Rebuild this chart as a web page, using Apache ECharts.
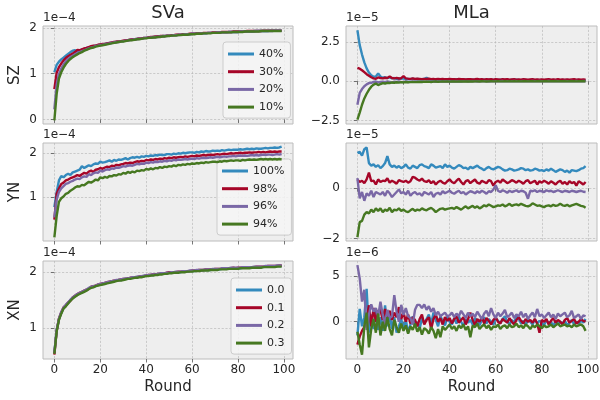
<!DOCTYPE html>
<html>
<head>
<meta charset="utf-8">
<script src="https://cdn.jsdelivr.net/npm/echarts@6/dist/echarts.min.js"></script>
<style>
  html, body { margin: 0; padding: 0; background: #ffffff; }
  #chart { width: 600px; height: 400px; }
</style>
</head>
<body>
<div id="chart"></div>
<script>
// ---- Data (row panels: SZ, YN, XN; columns: SVa in 1e-4, MLa in 1e-5 / 1e-6) ----
const rounds = Array.from({ length: 100 }, (_, i) => i);

const szNames = ['40%', '30%', '20%', '10%'];
const ynNames = ['100%', '98%', '96%', '94%'];
const xnNames = ['0.0', '0.1', '0.2', '0.3'];

// SZ / SVa (x 1e-4)
const szSVa40 = [
1.03,1.19,1.26,1.31,1.35,1.39,1.43,1.47,1.50,1.51,
1.48,1.50,1.53,1.54,1.56,1.57,1.58,1.60,1.61,1.62,
1.63,1.64,1.65,1.66,1.67,1.67,1.68,1.69,1.70,1.71,
1.71,1.72,1.73,1.74,1.74,1.75,1.76,1.76,1.77,1.78,
1.78,1.79,1.79,1.80,1.80,1.81,1.81,1.82,1.82,1.83,
1.83,1.83,1.84,1.84,1.85,1.85,1.85,1.86,1.86,1.86,
1.87,1.87,1.87,1.88,1.88,1.88,1.88,1.89,1.89,1.89,
1.89,1.90,1.90,1.90,1.90,1.90,1.91,1.91,1.91,1.91,
1.91,1.92,1.92,1.92,1.92,1.92,1.92,1.93,1.93,1.93,
1.93,1.93,1.93,1.93,1.94,1.94,1.94,1.94,1.94,1.94];
const szSVa30 = [
0.66,1.02,1.14,1.22,1.29,1.34,1.38,1.41,1.44,1.47,
1.52,1.51,1.53,1.55,1.56,1.58,1.60,1.61,1.61,1.63,
1.64,1.65,1.65,1.66,1.67,1.68,1.69,1.70,1.70,1.71,
1.72,1.73,1.73,1.74,1.75,1.75,1.76,1.77,1.77,1.78,
1.78,1.79,1.80,1.80,1.81,1.81,1.82,1.82,1.82,1.83,
1.83,1.84,1.84,1.85,1.85,1.85,1.86,1.86,1.86,1.87,
1.87,1.87,1.88,1.88,1.88,1.89,1.89,1.89,1.89,1.90,
1.90,1.90,1.90,1.91,1.91,1.91,1.91,1.91,1.92,1.92,
1.92,1.92,1.92,1.92,1.93,1.93,1.93,1.93,1.93,1.93,
1.93,1.94,1.94,1.94,1.94,1.94,1.94,1.94,1.94,1.94];
const szSVa20 = [
0.22,0.76,0.99,1.11,1.20,1.27,1.32,1.36,1.39,1.42,
1.45,1.47,1.49,1.51,1.53,1.55,1.57,1.58,1.60,1.61,
1.62,1.63,1.64,1.65,1.66,1.67,1.68,1.69,1.69,1.70,
1.71,1.72,1.72,1.73,1.74,1.75,1.75,1.76,1.76,1.77,
1.78,1.78,1.79,1.79,1.80,1.80,1.81,1.81,1.82,1.82,
1.83,1.83,1.84,1.84,1.84,1.85,1.85,1.86,1.86,1.86,
1.87,1.87,1.87,1.87,1.88,1.88,1.88,1.89,1.89,1.89,
1.89,1.90,1.90,1.90,1.90,1.90,1.91,1.91,1.91,1.91,
1.91,1.92,1.92,1.92,1.92,1.92,1.92,1.92,1.93,1.93,
1.93,1.93,1.93,1.93,1.93,1.93,1.94,1.94,1.94,1.94];
const szSVa10 = [
-0.02,0.56,0.89,1.03,1.13,1.21,1.27,1.32,1.36,1.39,
1.42,1.45,1.47,1.50,1.52,1.54,1.56,1.57,1.59,1.60,
1.61,1.62,1.63,1.64,1.65,1.66,1.67,1.68,1.69,1.70,
1.70,1.71,1.72,1.73,1.73,1.74,1.75,1.75,1.76,1.77,
1.77,1.78,1.78,1.79,1.79,1.80,1.80,1.81,1.81,1.82,
1.82,1.83,1.83,1.83,1.84,1.84,1.85,1.85,1.85,1.86,
1.86,1.86,1.87,1.87,1.87,1.88,1.88,1.88,1.88,1.89,
1.89,1.89,1.89,1.90,1.90,1.90,1.90,1.90,1.91,1.91,
1.91,1.91,1.91,1.92,1.92,1.92,1.92,1.92,1.92,1.92,
1.93,1.93,1.93,1.93,1.93,1.93,1.93,1.93,1.93,1.93];

// SZ / MLa (x 1e-5)
const szMLa40 = [
3.25,2.30,1.70,1.20,0.82,0.55,0.38,0.28,0.30,0.50,
0.30,0.22,0.25,0.20,0.24,0.18,0.20,0.15,0.17,0.16,
0.18,0.14,0.15,0.13,0.16,0.12,0.14,0.13,0.12,0.14,
0.22,0.13,0.11,0.12,0.10,0.12,0.11,0.10,0.12,0.10,
0.11,0.09,0.10,0.12,0.09,0.10,0.11,0.09,0.10,0.08,
0.10,0.09,0.11,0.08,0.09,0.10,0.08,0.09,0.10,0.08,
0.09,0.08,0.10,0.09,0.08,0.09,0.07,0.09,0.08,0.09,
0.08,0.07,0.09,0.08,0.07,0.08,0.09,0.07,0.08,0.07,
0.08,0.07,0.08,0.09,0.07,0.08,0.07,0.08,0.07,0.08,
0.07,0.08,0.07,0.06,0.08,0.07,0.08,0.07,0.06,0.07];
const szMLa30 = [
0.85,0.80,0.70,0.58,0.45,0.35,0.25,0.18,0.15,0.24,
0.20,0.18,0.22,0.20,0.30,0.20,0.18,0.21,0.17,0.19,
0.32,0.18,0.16,0.15,0.18,0.14,0.16,0.15,0.13,0.15,
0.14,0.16,0.13,0.15,0.12,0.14,0.13,0.15,0.12,0.13,
0.14,0.12,0.13,0.11,0.14,0.12,0.13,0.11,0.12,0.13,
0.11,0.12,0.14,0.11,0.12,0.10,0.13,0.11,0.12,0.10,
0.12,0.11,0.10,0.12,0.11,0.13,0.10,0.11,0.12,0.10,
0.11,0.10,0.12,0.11,0.10,0.11,0.12,0.10,0.11,0.10,
0.11,0.10,0.11,0.12,0.10,0.11,0.10,0.12,0.10,0.11,
0.10,0.11,0.10,0.11,0.12,0.10,0.11,0.10,0.11,0.10];
const szMLa20 = [
-1.50,-0.75,-0.50,-0.32,-0.20,-0.12,-0.10,-0.05,-0.02,-0.08,
-0.05,-0.03,-0.06,-0.02,-0.04,-0.10,-0.03,-0.05,-0.02,-0.06,
-0.04,-0.02,-0.05,-0.03,-0.02,-0.04,-0.01,-0.03,-0.02,-0.04,
-0.02,-0.01,-0.03,-0.02,-0.04,-0.01,-0.02,-0.03,-0.01,-0.02,
-0.01,-0.02,-0.01,-0.03,-0.01,-0.02,0.00,-0.01,-0.02,-0.01,
0.00,-0.01,-0.02,0.00,-0.01,0.00,-0.01,-0.02,0.00,-0.01,
0.00,-0.01,0.00,0.01,-0.01,0.00,-0.01,0.00,0.01,0.00,
-0.01,0.00,0.01,0.00,-0.01,0.00,0.01,0.00,0.00,0.01,
0.00,-0.01,0.00,0.01,0.00,0.00,0.01,0.00,-0.01,0.00,
0.01,0.00,0.00,0.01,0.00,0.01,0.00,0.00,0.01,0.00];
const szMLa10 = [
-2.45,-2.00,-1.50,-1.10,-0.80,-0.55,-0.35,-0.22,-0.15,-0.25,
-0.18,-0.12,-0.15,-0.10,-0.12,-0.08,-0.10,-0.07,-0.09,-0.06,
-0.08,-0.05,-0.07,-0.06,-0.04,-0.06,-0.05,-0.04,-0.05,-0.03,
-0.04,-0.03,-0.05,-0.03,-0.02,-0.04,-0.03,-0.02,-0.03,-0.02,
-0.03,-0.02,-0.01,-0.03,-0.02,-0.01,-0.02,-0.01,-0.02,-0.01,
-0.02,-0.01,-0.01,-0.02,0.00,-0.01,-0.02,-0.01,0.00,-0.01,
-0.01,0.00,-0.01,-0.01,0.00,-0.01,0.00,-0.01,0.00,-0.01,
0.00,-0.01,0.00,0.00,-0.01,0.00,0.00,-0.01,0.00,0.00,
-0.01,0.00,0.00,-0.01,0.00,0.00,0.00,-0.01,0.00,0.00,
0.00,-0.01,0.00,0.00,0.00,-0.01,0.00,0.00,0.00,-0.01];

// YN / SVa (x 1e-4)
const ynSVa100 = [
0.78,1.12,1.38,1.48,1.45,1.50,1.53,1.50,1.56,1.58,
1.60,1.62,1.70,1.66,1.69,1.72,1.70,1.74,1.76,1.75,
1.80,1.78,1.79,1.81,1.83,1.80,1.84,1.82,1.85,1.84,
1.86,1.88,1.85,1.88,1.90,1.89,1.91,1.89,1.92,1.91,
1.93,1.92,1.94,1.93,1.95,1.94,1.96,1.95,1.95,1.97,
1.97,1.96,1.98,1.97,1.99,1.98,2.00,1.99,2.00,2.01,
2.01,2.00,2.02,2.01,2.03,2.02,2.04,2.03,2.03,2.05,
2.04,2.05,2.04,2.06,2.05,2.06,2.07,2.06,2.07,2.07,
2.07,2.08,2.07,2.08,2.09,2.08,2.09,2.08,2.10,2.09,
2.09,2.10,2.11,2.10,2.11,2.11,2.12,2.11,2.12,2.14];
const ynSVa98 = [
0.50,1.08,1.20,1.30,1.33,1.38,1.40,1.43,1.45,1.47,
1.50,1.48,1.52,1.55,1.53,1.58,1.60,1.57,1.62,1.63,
1.66,1.64,1.67,1.69,1.68,1.71,1.70,1.73,1.72,1.74,
1.75,1.77,1.76,1.78,1.77,1.79,1.81,1.80,1.82,1.81,
1.84,1.83,1.85,1.84,1.86,1.85,1.87,1.86,1.88,1.87,
1.89,1.88,1.90,1.89,1.90,1.91,1.90,1.92,1.91,1.92,
1.93,1.92,1.94,1.93,1.94,1.95,1.94,1.95,1.96,1.95,
1.96,1.97,1.96,1.97,1.98,1.97,1.98,1.99,1.98,1.99,
1.99,2.00,1.99,2.00,2.00,2.01,2.00,2.01,2.01,2.02,
2.01,2.02,2.01,2.02,2.03,2.02,2.03,2.02,2.03,2.03];
const ynSVa96 = [
0.55,0.95,1.12,1.20,1.25,1.30,1.32,1.35,1.37,1.40,
1.42,1.41,1.45,1.47,1.46,1.52,1.50,1.54,1.56,1.55,
1.60,1.58,1.61,1.63,1.62,1.65,1.64,1.67,1.66,1.68,
1.70,1.69,1.71,1.72,1.71,1.73,1.75,1.74,1.76,1.75,
1.78,1.77,1.79,1.78,1.80,1.79,1.81,1.80,1.82,1.81,
1.83,1.82,1.84,1.83,1.85,1.84,1.85,1.86,1.85,1.86,
1.87,1.86,1.88,1.87,1.88,1.89,1.88,1.89,1.90,1.89,
1.90,1.91,1.90,1.91,1.92,1.91,1.92,1.92,1.93,1.92,
1.93,1.94,1.93,1.94,1.93,1.94,1.95,1.94,1.95,1.94,
1.95,1.96,1.95,1.96,1.96,1.95,1.96,1.97,1.96,1.97];
const ynSVa94 = [
0.10,0.58,0.90,0.98,1.02,1.08,1.10,1.15,1.18,1.22,
1.25,1.24,1.28,1.27,1.31,1.35,1.33,1.36,1.40,1.38,
1.45,1.43,1.46,1.44,1.48,1.47,1.50,1.49,1.52,1.51,
1.55,1.53,1.57,1.55,1.58,1.56,1.60,1.59,1.61,1.60,
1.64,1.62,1.65,1.63,1.66,1.65,1.68,1.66,1.69,1.68,
1.70,1.69,1.72,1.70,1.73,1.72,1.74,1.73,1.75,1.74,
1.76,1.75,1.77,1.76,1.78,1.77,1.79,1.78,1.79,1.80,
1.80,1.79,1.81,1.80,1.82,1.81,1.82,1.83,1.82,1.83,
1.83,1.82,1.84,1.83,1.84,1.85,1.84,1.85,1.84,1.85,
1.86,1.85,1.86,1.85,1.86,1.85,1.86,1.85,1.86,1.85];

// YN / MLa (x 1e-5)
const ynMLa100 = [
1.40,1.45,1.30,1.55,1.62,1.00,0.90,0.95,0.85,0.92,
0.80,0.88,1.00,1.28,0.95,0.85,0.90,0.82,0.88,0.80,
0.85,0.95,0.82,0.78,0.90,0.85,0.80,0.92,0.95,0.88,
0.85,0.80,0.95,0.90,0.82,0.85,0.88,0.80,0.95,0.85,
0.90,0.82,0.78,0.85,0.92,0.88,0.80,0.82,0.75,0.85,
0.80,0.85,0.90,0.82,0.78,0.72,0.80,0.85,0.78,0.75,
0.80,0.85,0.82,0.75,0.70,0.72,0.78,0.75,0.70,0.72,
0.75,0.80,0.78,0.72,0.75,0.70,0.72,0.78,0.75,0.70,
0.72,0.68,0.75,0.70,0.78,0.72,0.65,0.70,0.75,0.72,
0.65,0.70,0.62,0.72,0.70,0.68,0.72,0.78,0.80,0.88];
const ynMLa98 = [
0.33,0.25,0.30,0.20,0.35,0.62,0.28,0.30,0.15,0.35,
0.25,0.30,0.28,0.40,0.22,0.30,0.25,0.18,0.32,0.28,
0.25,0.30,0.22,0.28,0.45,0.42,0.35,0.30,0.38,0.28,
0.25,0.32,0.20,0.28,0.15,0.25,0.30,0.22,0.18,0.28,
0.35,0.25,0.20,0.30,0.38,0.25,0.15,0.28,0.32,0.20,
0.28,0.35,0.22,0.18,0.30,0.25,0.20,0.32,0.28,0.10,
0.25,0.30,0.22,0.35,0.28,0.20,0.25,0.32,0.28,0.22,
0.30,0.25,0.18,0.28,0.32,0.20,0.25,0.30,0.15,0.28,
0.22,0.30,0.25,0.18,0.28,0.22,0.15,0.25,0.30,0.18,
0.25,0.15,0.28,0.20,0.25,0.10,0.28,0.22,0.15,0.25];
const ynMLa96 = [
0.40,-0.40,-0.15,-0.50,-0.20,-0.30,-0.10,-0.35,-0.15,-0.20,
-0.25,-0.15,-0.30,-0.10,-0.20,-0.35,-0.25,-0.15,-0.05,-0.20,
-0.15,-0.25,-0.10,-0.30,-0.20,-0.15,-0.25,-0.20,-0.30,-0.15,
-0.20,-0.25,-0.15,-0.35,-0.22,-0.18,-0.25,-0.12,-0.20,-0.15,
-0.10,-0.18,-0.22,-0.15,-0.10,-0.20,-0.15,-0.25,-0.18,-0.12,
-0.15,-0.20,-0.12,-0.18,-0.10,-0.15,-0.22,-0.12,-0.15,-0.05,
0.12,-0.10,-0.15,-0.08,-0.12,-0.18,-0.10,-0.15,-0.12,-0.08,
-0.15,-0.10,-0.12,-0.18,-0.42,-0.10,-0.12,-0.08,-0.15,-0.10,
-0.12,-0.15,-0.08,-0.12,-0.10,-0.15,-0.12,-0.08,-0.12,-0.15,
-0.10,-0.12,-0.15,-0.10,-0.12,-0.15,-0.12,-0.10,-0.14,-0.15];
const ynMLa94 = [
-1.95,-1.35,-1.30,-1.05,-0.95,-1.00,-0.85,-0.95,-0.80,-0.90,
-0.80,-0.95,-0.85,-0.90,-0.78,-0.95,-0.85,-0.88,-0.80,-0.90,
-0.85,-0.92,-0.95,-0.88,-0.82,-0.90,-0.85,-0.88,-0.80,-0.85,
-0.88,-0.82,-0.78,-0.85,-0.95,-0.88,-0.82,-0.80,-0.85,-0.82,
-0.80,-0.78,-0.82,-0.75,-0.80,-0.85,-0.78,-0.72,-0.80,-0.75,
-0.70,-0.78,-0.72,-0.80,-0.75,-0.68,-0.72,-0.65,-0.70,-0.75,
-0.72,-0.68,-0.70,-0.65,-0.72,-0.68,-0.62,-0.70,-0.66,-0.64,
-0.68,-0.62,-0.66,-0.70,-0.72,-0.68,-0.60,-0.65,-0.70,-0.68,
-0.72,-0.75,-0.70,-0.68,-0.72,-0.66,-0.70,-0.68,-0.62,-0.68,
-0.70,-0.66,-0.72,-0.68,-0.65,-0.62,-0.66,-0.70,-0.72,-0.78];

// XN / SVa (x 1e-4)
const xnSVa00 = [
0.56,0.96,1.16,1.27,1.36,1.40,1.45,1.50,1.54,1.57,
1.60,1.62,1.64,1.66,1.68,1.71,1.73,1.74,1.75,1.77,
1.78,1.79,1.80,1.81,1.82,1.83,1.84,1.85,1.86,1.86,
1.87,1.88,1.88,1.89,1.90,1.90,1.91,1.92,1.92,1.93,
1.94,1.94,1.95,1.95,1.96,1.96,1.97,1.97,1.98,1.98,
1.99,1.99,1.99,2.00,2.00,2.00,2.01,2.01,2.01,2.02,
2.02,2.02,2.03,2.03,2.03,2.04,2.04,2.04,2.04,2.05,
2.05,2.05,2.05,2.06,2.06,2.06,2.06,2.07,2.07,2.07,
2.07,2.07,2.08,2.08,2.08,2.08,2.08,2.09,2.09,2.09,
2.09,2.09,2.10,2.10,2.10,2.10,2.10,2.11,2.11,2.11];
const xnSVa01 = [
0.53,0.95,1.17,1.28,1.37,1.41,1.46,1.49,1.55,1.58,
1.61,1.63,1.65,1.67,1.69,1.70,1.74,1.75,1.76,1.78,
1.79,1.80,1.81,1.82,1.83,1.84,1.85,1.85,1.86,1.87,
1.88,1.88,1.89,1.90,1.90,1.91,1.91,1.92,1.93,1.93,
1.94,1.95,1.95,1.96,1.96,1.97,1.97,1.98,1.98,1.99,
2.00,1.99,2.00,2.00,2.01,2.01,2.01,2.02,2.02,2.02,
2.03,2.03,2.03,2.04,2.04,2.04,2.05,2.05,2.05,2.05,
2.06,2.06,2.06,2.06,2.07,2.07,2.07,2.07,2.08,2.07,
2.08,2.08,2.08,2.09,2.09,2.09,2.09,2.09,2.10,2.10,
2.10,2.10,2.10,2.11,2.11,2.11,2.11,2.11,2.12,2.12];
const xnSVa02 = [
0.57,0.97,1.17,1.29,1.37,1.42,1.46,1.51,1.55,1.58,
1.61,1.63,1.65,1.67,1.69,1.72,1.74,1.75,1.76,1.78,
1.79,1.80,1.81,1.82,1.83,1.84,1.85,1.86,1.86,1.87,
1.88,1.89,1.89,1.90,1.91,1.91,1.92,1.92,1.93,1.94,
1.94,1.95,1.95,1.96,1.96,1.97,1.98,1.98,1.98,1.99,
1.99,2.00,2.00,2.01,2.01,2.01,2.02,2.02,2.02,2.03,
2.03,2.03,2.04,2.04,2.04,2.04,2.05,2.05,2.05,2.06,
2.06,2.06,2.06,2.07,2.07,2.07,2.07,2.08,2.08,2.08,
2.08,2.08,2.09,2.09,2.09,2.09,2.09,2.10,2.10,2.10,
2.10,2.10,2.11,2.11,2.11,2.11,2.11,2.12,2.12,2.12];
const xnSVa03 = [
0.54,0.94,1.15,1.26,1.35,1.39,1.44,1.49,1.53,1.56,
1.59,1.61,1.63,1.65,1.67,1.70,1.72,1.73,1.75,1.76,
1.77,1.78,1.79,1.80,1.81,1.82,1.83,1.84,1.85,1.85,
1.86,1.87,1.88,1.88,1.89,1.90,1.90,1.91,1.91,1.92,
1.93,1.93,1.94,1.94,1.95,1.95,1.96,1.96,1.97,1.97,
1.98,1.98,1.99,1.99,1.99,2.00,2.00,2.00,2.01,2.01,
2.01,2.02,2.02,2.02,2.03,2.03,2.03,2.03,2.04,2.04,
2.04,2.04,2.05,2.05,2.05,2.05,2.06,2.06,2.06,2.06,
2.06,2.07,2.07,2.07,2.07,2.07,2.08,2.08,2.08,2.08,
2.08,2.09,2.09,2.09,2.09,2.09,2.09,2.10,2.10,2.10];

// XN / MLa (x 1e-6)
const xnMLa00 = [
-1.50,1.40,-0.50,0.50,3.60,-1.20,0.80,-0.80,1.20,-0.90,
0.50,-1.00,1.80,-0.50,0.80,-0.80,0.50,-1.20,-0.50,0.30,
-0.80,0.20,-1.20,-0.30,0.60,-0.50,0.00,-0.80,0.40,-0.20,
0.30,0.80,-0.30,1.00,0.20,-0.50,0.60,0.10,-0.40,0.50,
0.00,-0.30,0.40,-0.20,0.60,0.00,-0.50,0.30,-0.10,0.20,
-0.30,0.40,0.10,-0.40,0.20,0.50,-0.20,0.30,0.00,-0.30,
0.40,0.10,-0.20,0.30,0.60,0.00,-0.30,0.20,-0.10,0.60,
0.30,-0.20,0.10,-0.40,0.20,0.00,-0.30,0.30,-0.20,0.10,
-0.10,-0.40,0.20,-0.20,0.00,-0.50,0.10,-0.30,0.00,-0.20,
0.10,-0.40,-0.10,0.20,-0.30,0.00,-0.20,0.10,-0.10,0.30];
const xnMLa01 = [
-2.50,-1.60,-1.00,-0.60,0.20,1.80,-0.50,1.50,0.00,1.20,
1.30,0.20,1.40,0.50,1.20,0.20,1.00,0.50,1.60,0.30,
1.00,0.00,0.80,-0.20,0.50,0.20,-0.50,0.30,0.80,-0.30,
0.20,0.50,-0.80,0.30,0.80,0.00,0.40,-0.30,0.50,0.10,
0.40,-0.20,0.30,0.60,-0.10,0.20,0.50,-0.30,0.30,1.00,
0.20,-0.40,0.30,0.00,0.50,-0.20,0.40,0.10,-0.30,0.20,
0.50,0.00,-0.20,0.30,0.10,-0.10,0.40,0.00,-0.30,0.20,
0.50,0.10,-0.20,0.30,0.00,0.20,-0.10,0.30,-0.20,-1.20,
0.20,0.00,0.30,-0.30,0.10,0.40,-0.10,0.20,0.00,-0.30,
0.20,0.40,-0.10,0.10,0.30,-0.20,0.00,0.30,0.10,0.00];
const xnMLa02 = [
6.20,4.75,2.20,3.50,-0.90,0.80,1.90,1.10,1.50,0.60,
2.20,0.75,-0.30,1.30,0.40,0.60,2.90,1.10,0.00,1.85,
0.75,1.50,0.60,0.40,-0.30,1.30,1.85,1.85,1.50,1.90,
1.30,1.70,1.10,1.50,0.70,1.10,0.60,0.80,1.00,0.60,
0.70,1.00,0.50,0.90,0.60,1.20,0.80,0.40,1.00,0.60,
0.90,0.50,1.10,0.70,0.30,0.90,1.20,0.60,1.50,0.80,
0.40,1.00,0.60,0.90,1.30,0.50,0.70,1.00,0.40,0.80,
0.60,1.10,0.50,0.90,0.30,0.70,1.00,0.50,1.40,0.60,
0.80,0.40,0.70,1.00,0.50,0.80,0.30,0.90,0.60,0.80,
1.00,0.50,0.70,1.20,0.40,0.60,0.80,0.30,0.70,0.60];
const xnMLa03 = [
-1.10,-2.50,-3.60,-0.50,1.00,-2.80,-0.80,0.30,-1.20,0.90,
-1.50,0.00,-1.00,0.50,-0.80,-1.50,0.20,-0.60,-1.20,-0.20,
-1.00,-0.40,-1.30,-0.50,-0.90,-0.20,-1.10,-0.60,-1.40,-0.70,
-0.90,-1.30,-0.60,-1.00,-1.80,-0.80,-1.70,-0.50,-0.90,-0.60,
-0.30,-0.80,-0.50,-1.00,-0.40,-0.70,-0.30,-0.90,-0.50,-1.70,
-0.40,-0.60,-0.20,-0.80,-0.50,-0.30,-0.70,-0.40,-0.90,-0.50,
-0.60,-0.30,-0.80,-0.50,-0.40,-0.70,-0.30,-0.60,-0.50,-0.20,
-0.60,-0.40,-0.70,-0.30,-0.50,-0.80,-0.40,-0.60,-0.30,-0.50,
-0.70,-0.40,-0.60,-0.50,-0.30,-0.60,-0.40,-0.20,-0.50,-0.40,
-0.30,-0.50,-0.40,-0.60,-0.30,-0.50,-0.40,-0.30,-0.50,-1.00];

// Tick positions and their labels
const xTicks = [0, 20, 40, 60, 80, 100];
const xTickLabels = ['0', '20', '40', '60', '80', '100'];
const szSVaTicks = [0, 1, 2],        szSVaTickLabels = ['0', '1', '2'];
const szMLaTicks = [-2.5, 0, 2.5],   szMLaTickLabels = ['\u22122.5', '0.0', '2.5'];
const ynSVaTicks = [1, 2],           ynSVaTickLabels = ['1', '2'];
const ynMLaTicks = [-2, 0],          ynMLaTickLabels = ['\u22122', '0'];
const xnSVaTicks = [1, 2],           xnSVaTickLabels = ['1', '2'];
const xnMLaTicks = [0, 5],           xnMLaTickLabels = ['0', '5'];

// ---- Styling ----
const FONT = 'DejaVu Sans';
const COLORS = ['#348ABD', '#A60628', '#7A68A6', '#467821'];
const TEXT = '#262626';
const ROW_TOP = [26, 143, 261];
const ROW_H = 98;
const COL_LEFT = [43, 346];
const COL_W = [250, 251];

const panels = [
  { row: 0, col: 0, names: szNames, data: [szSVa40, szSVa30, szSVa20, szSVa10], y: [-0.10, 2.04], ticks: szSVaTicks, labels: szSVaTickLabels, offset: '1e\u22124' },
  { row: 0, col: 1, names: szNames, data: [szMLa40, szMLa30, szMLa20, szMLa10], y: [-2.73, 3.52], ticks: szMLaTicks, labels: szMLaTickLabels, offset: '1e\u22125' },
  { row: 1, col: 0, names: ynNames, data: [ynSVa100, ynSVa98, ynSVa96, ynSVa94], y: [0.02, 2.22], ticks: ynSVaTicks, labels: ynSVaTickLabels, offset: '1e\u22124' },
  { row: 1, col: 1, names: ynNames, data: [ynMLa100, ynMLa98, ynMLa96, ynMLa94], y: [-2.10, 1.80], ticks: ynMLaTicks, labels: ynMLaTickLabels, offset: '1e\u22125' },
  { row: 2, col: 0, names: xnNames, data: [xnSVa00, xnSVa01, xnSVa02, xnSVa03], y: [0.45, 2.20], ticks: xnSVaTicks, labels: xnSVaTickLabels, offset: '1e\u22124' },
  { row: 2, col: 1, names: xnNames, data: [xnMLa00, xnMLa01, xnMLa02, xnMLa03], y: [-4.08, 6.65], ticks: xnMLaTicks, labels: xnMLaTickLabels, offset: '1e\u22126' }
];

function labelFor(ticks, labels) {
  return function (v) {
    const i = ticks.findIndex(t => Math.abs(t - v) < 1e-9);
    return i >= 0 ? labels[i] : '';
  };
}

const splitLine = { show: true, lineStyle: { color: '#b2b2b2', width: 0.6, type: [2.2, 1.6] } };
const tickStyle = { show: true, inside: false, length: 3.5, lineStyle: { color: '#555555', width: 0.8 } };

const grids = [], xAxes = [], yAxes = [], series = [], graphics = [];

panels.forEach((p, i) => {
  const left = COL_LEFT[p.col], top = ROW_TOP[p.row];
  grids.push({
    left: left, top: top, width: COL_W[p.col], height: ROW_H,
    show: true, backgroundColor: '#eeeeee', borderColor: '#bcbcbc', borderWidth: 1,
    containLabel: false, outerBoundsMode: 'none'
  });
  const bottomRow = p.row === 2;
  xAxes.push({
    type: 'value', gridIndex: i, min: -4.95, max: 103.95,
    axisLine: { show: false },
    axisTick: Object.assign({}, tickStyle, { customValues: xTicks }),
    axisLabel: {
      show: bottomRow, customValues: xTicks, formatter: labelFor(xTicks, xTickLabels),
      margin: 5, color: TEXT, fontSize: 12, fontFamily: FONT
    },
    splitLine: splitLine
  });
  yAxes.push({
    type: 'value', gridIndex: i, min: p.y[0], max: p.y[1],
    axisLine: { show: false },
    axisTick: Object.assign({}, tickStyle, { customValues: p.ticks }),
    axisLabel: {
      customValues: p.ticks, formatter: labelFor(p.ticks, p.labels),
      margin: 6, color: TEXT, fontSize: 12, fontFamily: FONT
    },
    splitLine: splitLine
  });
  p.data.forEach((vals, k) => {
    series.push({
      type: 'line', name: p.names[k], xAxisIndex: i, yAxisIndex: i,
      data: vals.map((v, j) => [rounds[j], v]),
      showSymbol: false, symbol: 'none', clip: true,
      lineStyle: { color: COLORS[k], width: 2.4 },
      itemStyle: { color: COLORS[k] },
      z: 2 + k, animation: false, silent: true
    });
  });
  // scale factor text above each panel
  graphics.push({
    type: 'text', left: left, top: top - 14,
    style: { text: p.offset, fill: TEXT, font: '12px "DejaVu Sans"' }
  });
});

// column titles
graphics.push({ type: 'text', x: 168, y: 13, style: { text: 'SVa', fill: TEXT, font: '18px "DejaVu Sans"', align: 'center', verticalAlign: 'middle' } });
graphics.push({ type: 'text', x: 471.5, y: 13, style: { text: 'MLa', fill: TEXT, font: '18px "DejaVu Sans"', align: 'center', verticalAlign: 'middle' } });
// row labels
[['SZ', 75], ['YN', 192], ['XN', 310]].forEach(([t, cy]) => {
  graphics.push({ type: 'text', x: 15, y: cy, rotation: Math.PI / 2,
    style: { text: t, fill: TEXT, font: '15px "DejaVu Sans"', align: 'center', verticalAlign: 'middle' } });
});
// x-axis titles
graphics.push({ type: 'text', x: 168, y: 387, style: { text: 'Round', fill: TEXT, font: '15px "DejaVu Sans"', align: 'center', verticalAlign: 'middle' } });
graphics.push({ type: 'text', x: 471.5, y: 387, style: { text: 'Round', fill: TEXT, font: '15px "DejaVu Sans"', align: 'center', verticalAlign: 'middle' } });

function legendAt(left, top, names) {
  return {
    orient: 'vertical', left: left, top: top, data: names,
    icon: 'rect', itemWidth: 26, itemHeight: 3, itemGap: 3.7,
    padding: [5, 7, 4, 5],
    backgroundColor: 'rgba(244,244,244,0.85)', borderColor: '#cccccc', borderWidth: 1, borderRadius: 3,
    selectedMode: false,
    textStyle: { fontFamily: FONT, fontSize: 11, color: TEXT, lineHeight: 14 }
  };
}

const chart = echarts.init(document.getElementById('chart'), null, { renderer: 'canvas', width: 600, height: 400 });
chart.setOption({
  animation: false,
  backgroundColor: '#ffffff',
  grid: grids,
  xAxis: xAxes,
  yAxis: yAxes,
  legend: [legendAt(223, 42, szNames), legendAt(217, 159, ynNames), legendAt(231, 278, xnNames)],
  series: series,
  graphic: graphics
});
</script>
</body>
</html>
